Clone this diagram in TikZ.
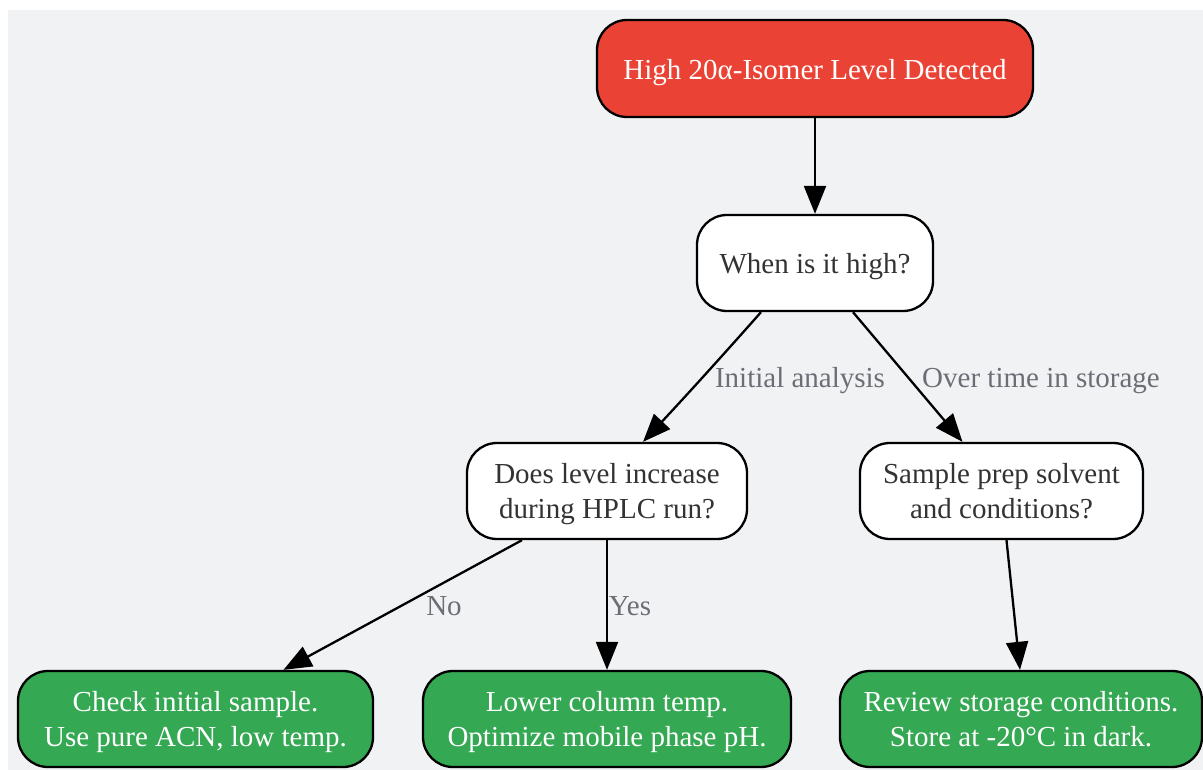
\documentclass[tikz,border=0pt]{standalone}
\usepackage{fontspec}
\setmainfont{Liberation Serif}
\usetikzlibrary{arrows.meta}
\definecolor{bgc}{HTML}{F1F2F4}
\definecolor{redc}{HTML}{EA4335}
\definecolor{greenc}{HTML}{34A853}
\definecolor{txtc}{HTML}{333333}
\definecolor{lblc}{HTML}{6B6E75}
\tikzset{
  box/.style={draw=black, line width=2.3pt, rounded corners=30pt, align=center,
    font=\fontsize{29}{35}\selectfont, inner sep=0pt},
  oneline/.style={text height=21.5pt, text depth=0pt},
  twoline/.style={text height=61pt, text depth=6pt},
  qbox/.style={box, fill=white, text=txtc},
  rbox/.style={box, fill=redc, text=white},
  gbox/.style={box, fill=greenc, text=white},
  edge/.style={line width=2.3pt, -{Triangle[length=28pt,width=22pt]}},
  lbl/.style={text=lblc, font=\fontsize{29}{35}\selectfont, inner sep=0pt}
}
\begin{document}
\begin{tikzpicture}[x=1pt,y=-1pt]
\useasboundingbox (0,0) rectangle (1203,770);
\fill[bgc] (8,10) rectangle (1203,770);
\node[rbox, oneline, minimum width=436pt, minimum height=97pt] (top) at (815,68.5) {High 20α-Isomer Level Detected};
\node[qbox, oneline, minimum width=236pt, minimum height=96pt] (when) at (815,263) {When is it high?};
\node[qbox, twoline, minimum width=280pt, minimum height=96pt] (does) at (607,491) {Does level increase\\during HPLC run?};
\node[qbox, twoline, minimum width=283pt, minimum height=96pt] (samp) at (1001.5,491) {Sample prep solvent\\and conditions?};
\node[gbox, twoline, minimum width=355pt, minimum height=96pt] (g1) at (195.5,719) {Check initial sample.\\Use pure ACN, low temp.};
\node[gbox, twoline, minimum width=368pt, minimum height=96pt] (g2) at (607,719) {Lower column temp.\\Optimize mobile phase pH.};
\node[gbox, twoline, minimum width=362pt, minimum height=96pt] (g3) at (1021,719) {Review storage conditions.\\Store at -20°C in dark.};
\draw[edge] (top.south) -- (when.north);
\draw[edge] ([xshift=-54pt]when.south) .. controls (724,354) and (685,397) .. ([xshift=36pt]does.north);
\draw[edge] ([xshift=38pt]when.south) -- ([xshift=-39pt]samp.north);
\draw[edge] ([xshift=-85pt]does.south) -- ([xshift=88pt]g1.north);
\draw[edge] (does.south) -- (g2.north);
\draw[edge] ([xshift=5pt]samp.south) -- ([xshift=-1pt]g3.north);
\node[lbl] (l1) at (800,381) {Initial analysis};
\node[lbl] (l2) at (1041,381) {Over time in storage};
\node[lbl] (l3) at (444,606) {No};
\node[lbl] (l4) at (630,606) {Yes};
\end{tikzpicture}
\end{document}
